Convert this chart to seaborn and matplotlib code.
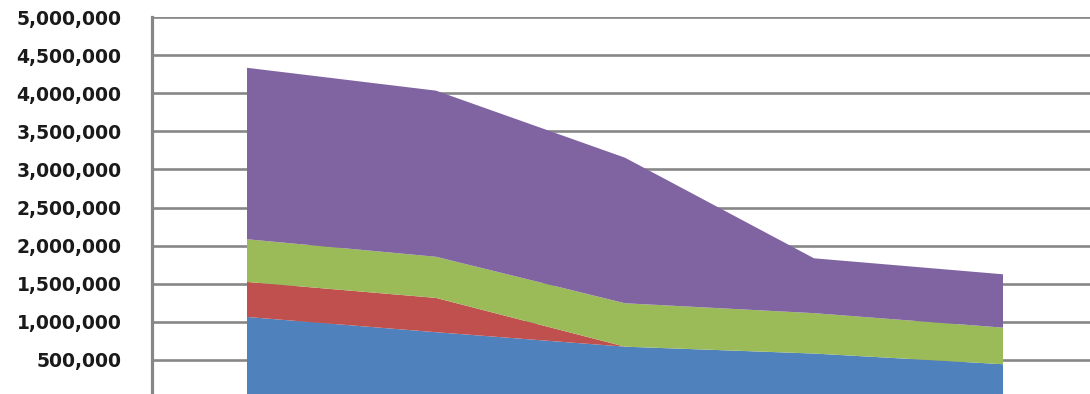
import matplotlib
matplotlib.use("Agg")
import matplotlib.pyplot as plt
import seaborn as sns
import numpy as np
from matplotlib.ticker import FuncFormatter, MultipleLocator

# Data (five periods, stacked)
periods = ["1", "2", "3", "4", "5"]
series_names = ["Blue", "Red", "Green", "Purple"]
blue = [1070000, 870000, 680000, 590000, 450000]
red = [460000, 450000, 0, 0, 0]
green = [560000, 540000, 570000, 530000, 480000]
purple = [2250000, 2180000, 1910000, 720000, 700000]
colors = ["#4F81BD", "#C0504D", "#9BBB59", "#8064A2"]

sns.set_theme(style="white")
plt.rcParams["font.family"] = ["DejaVu Sans"]

fig = plt.figure(figsize=(10.9, 3.94), dpi=100)
ax = fig.add_axes([152 / 1090, -4 / 394, 945 / 1090, 381 / 394])

x = np.arange(len(periods))
ax.stackplot(x, blue, red, green, purple, colors=colors, labels=series_names,
             linewidth=0, antialiased=False, zorder=2)

ax.set_xlim(-0.5, len(periods) - 0.5)
ax.set_ylim(0, 5000000)
ax.yaxis.set_major_locator(MultipleLocator(500000))
ax.yaxis.set_major_formatter(FuncFormatter(lambda v, p: "" if v == 0 else f"{int(v):,}"))
ax.grid(axis="y", color="#878787", linewidth=1.9)
ax.grid(axis="x", visible=False)
ax.set_axisbelow(True)
ax.set_xticks([])

for s in ["top", "right", "bottom"]:
    ax.spines[s].set_visible(False)
ax.spines["left"].set_color("#878787")
ax.spines["left"].set_linewidth(2.3)

ax.tick_params(axis="y", length=0, pad=22, labelsize=13.5, labelcolor="#1a1a1a")
for lbl in ax.get_yticklabels():
    lbl.set_fontweight("bold")

fig.savefig("out.png", dpi=100)
